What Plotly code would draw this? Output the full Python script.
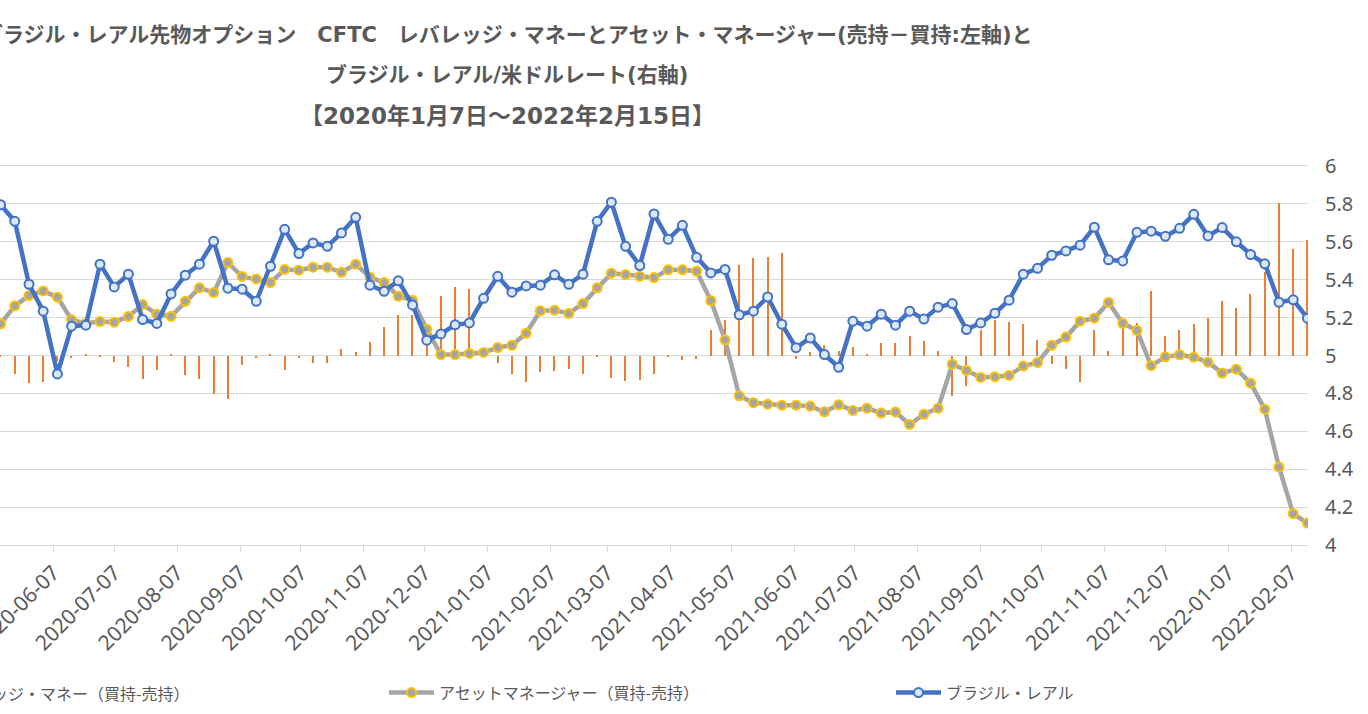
import plotly.graph_objects as go
import pandas as pd

# ---------------- data ----------------
week_start = "2020-05-12"
week_end = "2022-02-15"
dates = pd.date_range(week_start, week_end, freq="7D")

# Leveraged money, long - short (contracts, left axis)
leveraged_money = [
    -450, -4950, -7300, -7050, -1500, -700, 250, -500, -1750, -3100,
    -6250, -3900, 250, -5200, -6250, -10100, -11500, -2550, -700, 150,
    -3900, -700, -2050, -2050, 1600, 1050, 3450, 7400, 10650, 10800,
    7750, 15800, 17950, 17650, 500, -1950, -4950, -7050, -4400, -4150,
    -3600, -4950, -450, -6000, -6800, -6500, -4950, -250, -1250, -1000,
    6850, 9250, 23750, 25850, 26100, 27150, -900, 1050, 2900, 1300,
    2200, 200, 3250, 3250, 5250, 3700, 1300, -10750, -8100, 6850,
    9250, 8950, 8250, 4200, -2300, -3600, -7050, 6850, 1300, 8350,
    8500, 16900, 5250, 6850, 8250, 9850, 14250, 12500, 16100, 21950,
    40250, 28050, 30600,
]

# Asset manager, long - short (contracts, left axis)
asset_manager = [
    8350, 13100, 15800, 17050, 15400, 9400, 8450, 8950, 8800, 10300,
    13450, 10900, 10350, 14300, 17850, 16600, 24550, 20850, 20200, 19250,
    22700, 22500, 23300, 23300, 21950, 24100, 20650, 19250, 15650, 14600,
    6950, 250, 250, 550, 800, 2100, 2700, 5900, 11800, 11950,
    11100, 13700, 17850, 21700, 21350, 20900, 20550, 22600, 22600, 22250,
    14500, 4150, -10650, -12450, -12850, -13100, -13100, -13350, -14850, -13000,
    -14500, -13900, -15200, -14900, -18200, -15500, -13900, -2300, -3950, -5800,
    -5600, -5250, -2800, -1850, 2700, 4850, 9050, 9850, 14000, 8500,
    6650, -2700, -350, 200, -450, -1750, -4650, -3600, -7300, -14150,
    -29450, -41750, -44200,
]

# USD/BRL rate (right axis)
brl_usd = [
    5.796, 5.708, 5.376, 5.234, 4.903, 5.155, 5.160, 5.482, 5.362, 5.429,
    5.190, 5.169, 5.325, 5.424, 5.482, 5.603, 5.355, 5.350, 5.286, 5.471,
    5.666, 5.538, 5.594, 5.576, 5.647, 5.729, 5.371, 5.339, 5.394, 5.267,
    5.081, 5.114, 5.162, 5.172, 5.302, 5.418, 5.334, 5.367, 5.371, 5.426,
    5.376, 5.429, 5.708, 5.809, 5.576, 5.475, 5.747, 5.613, 5.687, 5.518,
    5.436, 5.454, 5.215, 5.234, 5.309, 5.165, 5.041, 5.093, 5.005, 4.938,
    5.181, 5.155, 5.218, 5.160, 5.234, 5.192, 5.255, 5.274, 5.137, 5.172,
    5.223, 5.292, 5.429, 5.460, 5.529, 5.552, 5.582, 5.677, 5.505, 5.499,
    5.650, 5.656, 5.629, 5.671, 5.745, 5.631, 5.675, 5.600, 5.533, 5.484,
    5.281, 5.294, 5.197,
]

series_names = [
    "レバレッジ・マネー（買持-売持）",
    "アセットマネージャー（買持-売持）",
    "ブラジル・レアル",
]

title_lines = [
    "ブラジル・レアル先物オプション　CFTC　レバレッジ・マネーとアセット・マネージャー(売持－買持:左軸)と",
    "ブラジル・レアル/米ドルレート(右軸)",
    "【2020年1月7日～2022年2月15日】",
]

# ---------------- style ----------------
TEXT = "#595959"
GRID = "#D9D9D9"
TITLE_FONT = "'DejaVu Sans', 'Noto Sans CJK JP', sans-serif"
JP_FONT = "'Noto Sans CJK JP', sans-serif"
NUM_FONT = "'Segoe UI', 'Noto Sans', 'Noto Sans CJK JP', sans-serif"

W, H = 1368, 714
M_L, M_R, M_T, M_B = 0, 60, 166, 169
plot_w = W - M_L - M_R
plot_h = H - M_T - M_B

x_left = pd.Timestamp(week_start) - pd.Timedelta(hours=7)
x_right = pd.Timestamp(week_end) + pd.Timedelta(hours=7)

fig = go.Figure()

fig.add_trace(go.Bar(
    x=dates, y=leveraged_money, name=series_names[0],
    marker=dict(color="#ED7D31", line=dict(width=0)),
    width=0.62 * 24 * 3600 * 1000,
    yaxis="y",
    showlegend=False,
))

fig.add_trace(go.Scatter(
    x=dates, y=asset_manager, name=series_names[1],
    mode="lines+markers",
    line=dict(color="#A5A5A5", width=4.5),
    marker=dict(symbol="circle", size=9, color="#A5A5A5",
                line=dict(color="#FFC000", width=2)),
    yaxis="y",
))

fig.add_trace(go.Scatter(
    x=dates, y=brl_usd, name=series_names[2],
    mode="lines+markers",
    line=dict(color="#4472C4", width=4.5),
    marker=dict(symbol="circle", size=9, color="#DAE8F7",
                line=dict(color="#4472C4", width=2)),
    yaxis="y2",
))

# Title (three centred lines)
title_y_px = [35, 75, 116]
title_sizes = [21, 21, 23]
title_x_px = 507
for line, ypx, fs in zip(title_lines, title_y_px, title_sizes):
    fig.add_annotation(
        text="<b>" + line + "</b>",
        xref="paper", yref="paper",
        x=(title_x_px - M_L) / plot_w,
        y=(H - M_B - ypx) / plot_h,
        xanchor="center", yanchor="middle",
        showarrow=False,
        font=dict(family=TITLE_FONT, size=fs, color=TEXT),
    )

# Legend row: first entry (bars) runs off the left edge as in the reference
legend_y_px = 692.7
fig.add_annotation(
    text=series_names[0],
    xref="paper", yref="paper",
    x=(192 - M_L) / plot_w,
    y=(H - M_B - legend_y_px) / plot_h,
    xanchor="right", yanchor="middle",
    showarrow=False,
    font=dict(family=JP_FONT, size=16, color=TEXT),
)

fig.update_layout(
    width=W, height=H,
    margin=dict(l=M_L, r=M_R, t=M_T, b=M_B, autoexpand=False),
    paper_bgcolor="white", plot_bgcolor="white",
    showlegend=True,
    bargap=0,
    legend=dict(
        orientation="h",
        xref="container", yref="container",
        x=384 / W, y=1 - legend_y_px / H,
        xanchor="left", yanchor="middle",
        itemwidth=45,
        entrywidth=447, entrywidthmode="pixels",
        font=dict(family=JP_FONT, size=16, color=TEXT),
        bgcolor="rgba(0,0,0,0)",
        traceorder="normal",
    ),
    xaxis=dict(
        type="date",
        range=[x_left, x_right],
        tick0="2020-01-07", dtick="M1",
        tickformat="%Y-%m-%d",
        tickangle=-45,
        ticks="outside", ticklen=6, tickcolor=GRID, tickwidth=1.3,
        ticklabeloverflow="allow",
        showgrid=False,
        showline=True, mirror=True, linecolor=GRID, linewidth=1.3,
        tickfont=dict(family=NUM_FONT, size=21, color=TEXT),
        automargin=False,
    ),
    yaxis=dict(
        range=[-50000, 50000],
        dtick=10000,
        showgrid=False,
        zeroline=False,
        showticklabels=False,
        automargin=False,
    ),
    yaxis2=dict(
        overlaying="y",
        side="right",
        range=[4, 6],
        dtick=0.2,
        showgrid=True, gridcolor=GRID, gridwidth=1.3,
        zeroline=False,
        ticks="",
        ticklabelstandoff=16,
        tickfont=dict(family=NUM_FONT, size=20, color=TEXT),
        automargin=False,
    ),
)

fig.write_html("out.html")
